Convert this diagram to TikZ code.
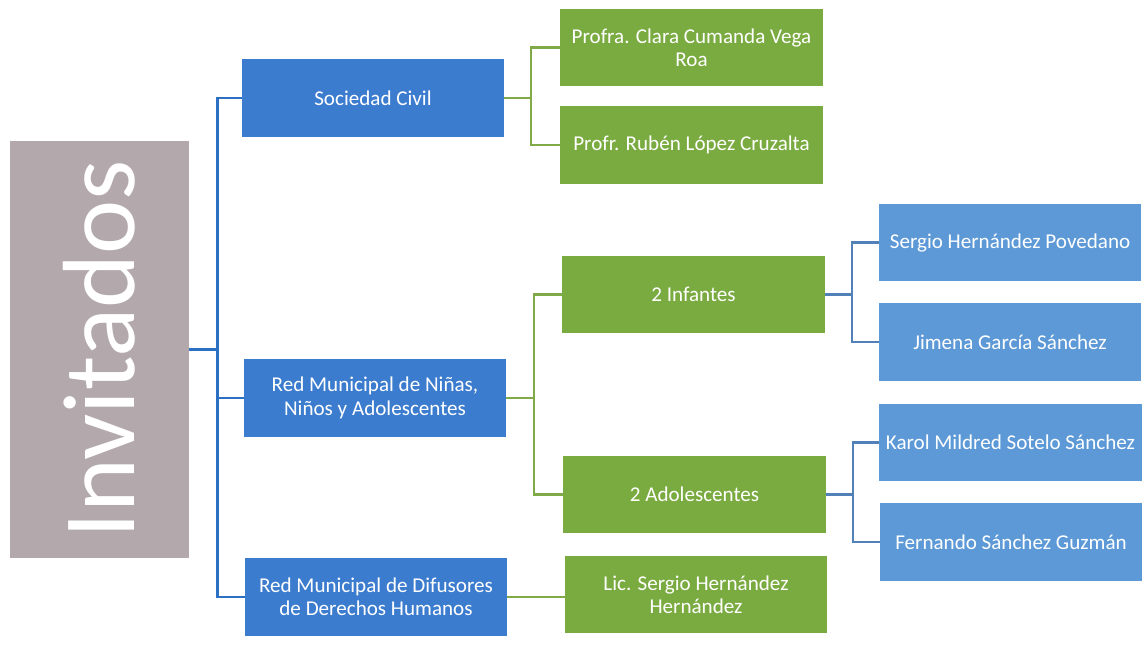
\documentclass[tikz,border=0pt]{standalone}
\usepackage{fontspec}
\setmainfont{Carlito}
\usetikzlibrary{positioning}

\definecolor{grisInv}{RGB}{179,169,173}
\definecolor{azulN1}{RGB}{60,124,206}
\definecolor{verdeN2}{RGB}{122,171,64}
\definecolor{azulN3}{RGB}{92,153,214}
\definecolor{lineaAzul}{RGB}{44,112,196}
\definecolor{lineaVerde}{RGB}{128,170,72}
\definecolor{lineaGris}{RGB}{82,128,184}

\begin{document}
\begin{tikzpicture}[x=0.025cm, y=-0.025cm, font=\fontsize{15}{16.6}\selectfont]
%% coordinates are in pixels of the original chart (y grows downwards)
\tikzstyle{caja}=[text=white, align=center, inner sep=2pt, minimum width=6.55cm, minimum height=1.93cm]
\tikzstyle{nivelUno}=[caja, fill=azulN1]
\tikzstyle{nivelDos}=[caja, fill=verdeN2]
\tikzstyle{nivelTres}=[caja, fill=azulN3]
\tikzstyle{titulo}=[fill=grisInv, text=white, rotate=90, minimum width=10.43cm, minimum height=4.48cm, font=\fontsize{73}{73}\selectfont]
\tikzstyle{troncoArc}=[draw=lineaAzul, line width=1.6pt]
\tikzstyle{verdeArc}=[draw=lineaVerde, line width=1.6pt]
\tikzstyle{grisArc}=[draw=lineaGris, line width=1.6pt]
\useasboundingbox (0,0) rectangle (1148,649);
%% root
\node[titulo] at (99.5,349.5) (Invitados) {Invitados};
%% first level
\node[nivelUno] at (373,98) (Sociedad) {Sociedad Civil};
\node[nivelUno] at (375,398) (RedNinos) {Red Municipal de Niñas,\\Niños y Adolescentes};
\node[nivelUno] at (376,597) (Difusores) {Red Municipal de Difusores\\de Derechos Humanos};
%% second level
\node[nivelDos] at (691.5,47.5) (Clara) {Profra. Clara Cumanda Vega\\Roa};
\node[nivelDos] at (691.5,145) (Ruben) {Profr. Rubén López Cruzalta};
\node[nivelDos] at (693.5,294.5) (Infantes) {2 Infantes};
\node[nivelDos] at (694.5,494.5) (Adolescentes) {2 Adolescentes};
\node[nivelDos] at (696,594.5) (Licenciado) {Lic. Sergio Hernández\\Hernández};
%% third level
\node[nivelTres] at (1010,242.5) (Povedano) {Sergio Hernández Povedano};
\node[nivelTres] at (1010,342) (Jimena) {Jimena García Sánchez};
\node[nivelTres] at (1010.5,442.5) (Karol) {Karol Mildred Sotelo Sánchez};
\node[nivelTres] at (1011,542) (Fernando) {Fernando Sánchez Guzmán};
%% connectors
\draw[troncoArc] (Invitados.south) -- ++(28,0) |- (Sociedad.west);
\draw[troncoArc] (Invitados.south) -- ++(28,0) |- (RedNinos.west);
\draw[troncoArc] (Invitados.south) -- ++(28,0) |- (Difusores.west);
\draw[verdeArc] (Sociedad.east) -- ++(27,0) |- (Clara.west);
\draw[verdeArc] (Sociedad.east) -- ++(27,0) |- (Ruben.west);
\draw[verdeArc] (RedNinos.east) -- ++(28,0) |- (Infantes.west);
\draw[verdeArc] (RedNinos.east) -- ++(28,0) |- (Adolescentes.west);
\draw[verdeArc] (Difusores.east) -- (Licenciado.west |- Difusores.east);
\draw[grisArc] (Infantes.east) -- ++(27,0) |- (Povedano.west);
\draw[grisArc] (Infantes.east) -- ++(27,0) |- (Jimena.west);
\draw[grisArc] (Adolescentes.east) -- ++(27,0) |- (Karol.west);
\draw[grisArc] (Adolescentes.east) -- ++(27,0) |- (Fernando.west);
\end{tikzpicture}
\end{document}
